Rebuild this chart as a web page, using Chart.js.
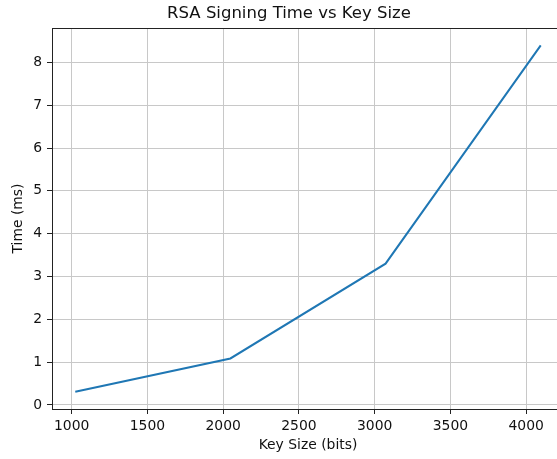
<!DOCTYPE html>
<html lang="en">
<head>
  <meta charset="UTF-8">
  <title>RSA Signing Time vs Key Size</title>
  <script src="https://cdn.jsdelivr.net/npm/chart.js"></script>
  <style>
    html, body {
      margin: 0;
      padding: 0;
      background: #fff;
      overflow: hidden;
    }
    #wrap {
      position: relative;
      width: 566px;
      height: 459px;
    }
  </style>
</head>
<body>
  <div id="wrap"><canvas id="chart"></canvas></div>

  <script>
    const keySizes = [1024, 2048, 3072, 4096];
    const signTimes = [0.31, 1.086, 3.30, 8.40];
    const xTicks = [1000, 1500, 2000, 2500, 3000, 3500, 4000];
    const yTicks = [0, 1, 2, 3, 4, 5, 6, 7, 8];

    const font = 'DejaVu Sans';

    // matplotlib-style 5% margins
    const xPad = (keySizes[3] - keySizes[0]) * 0.05;
    const yPad = (Math.max(...signTimes) - Math.min(...signTimes)) * 0.05;

    const frame = {
      id: 'frame',
      afterDraw(chart) {
        const { ctx, chartArea: a } = chart;
        ctx.save();
        ctx.strokeStyle = '#222';
        ctx.lineWidth = 1;
        ctx.strokeRect(a.left + 0.5, a.top + 0.5, a.right - a.left, a.bottom - a.top);
        ctx.fillStyle = '#111';
        ctx.font = '16.5px "' + font + '"';
        ctx.textAlign = 'center';
        ctx.textBaseline = 'middle';
        ctx.fillText('RSA Signing Time vs Key Size', 289, 14);
        ctx.restore();
      }
    };

    new Chart(document.getElementById('chart'), {
      type: 'line',
      data: {
        datasets: [{
          data: keySizes.map((k, i) => ({ x: k, y: signTimes[i] })),
          borderColor: '#1f77b4',
          borderWidth: 2,
          pointRadius: 0,
          tension: 0,
          fill: false
        }]
      },
      options: {
        responsive: true,
        maintainAspectRatio: false,
        animation: false,
        layout: { padding: { top: 28, right: 2, left: 0, bottom: 0 } },
        plugins: {
          legend: { display: false },
          tooltip: { enabled: false }
        },
        scales: {
          x: {
            type: 'linear',
            min: keySizes[0] - xPad,
            max: keySizes[3] + xPad,
            afterBuildTicks: s => { s.ticks = xTicks.map(v => ({ value: v })); },
            afterFit: s => { s.height = 50; },
            grid: { color: '#c8c8c8', tickColor: '#222', tickLength: 5 },
            border: { color: '#222' },
            ticks: {
              color: '#111',
              padding: 4,
              maxRotation: 0,
              callback: v => String(v),
              font: { family: font, size: 13.9 }
            },
            title: {
              display: true,
              text: 'Key Size (bits)',
              color: '#111',
              padding: { top: 0, bottom: 5 },
              font: { family: font, size: 13.9 }
            }
          },
          y: {
            min: Math.min(...signTimes) - yPad,
            max: Math.max(...signTimes) + yPad,
            afterBuildTicks: s => { s.ticks = yTicks.map(v => ({ value: v })); },
            afterFit: s => { s.width = 52; },
            grid: { color: '#c8c8c8', tickColor: '#222', tickLength: 5 },
            border: { color: '#222' },
            ticks: {
              color: '#111',
              padding: 5,
              callback: v => String(v),
              font: { family: font, size: 13.9 }
            },
            title: {
              display: true,
              text: 'Time (ms)',
              color: '#111',
              padding: { top: 10, bottom: 0 },
              font: { family: font, size: 13.9 }
            }
          }
        }
      },
      plugins: [frame]
    });
  </script>
</body>
</html>
